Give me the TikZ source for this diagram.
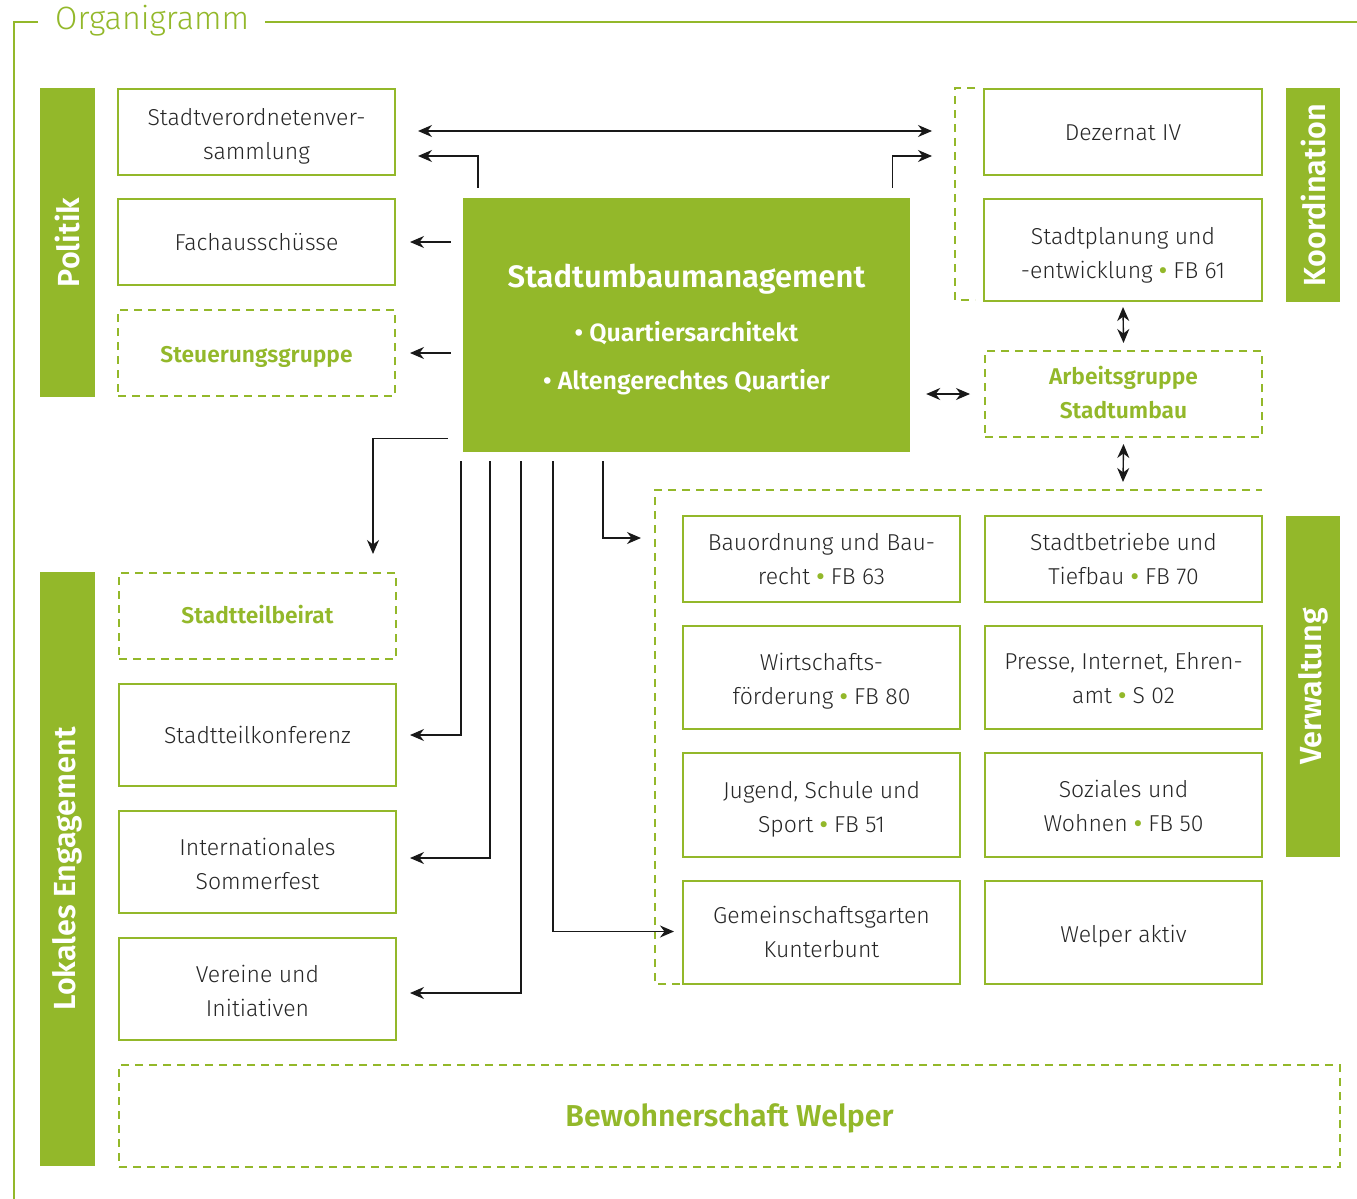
\documentclass[tikz,border=0pt]{standalone}
\usepackage{fontspec}
\setmainfont{Fira Sans}[UprightFont=* Light, BoldFont=* SemiBold]
\usetikzlibrary{arrows.meta,calc}
\definecolor{ogreen}{RGB}{147,184,42}
\definecolor{lnk}{RGB}{25,25,25}
\newcommand{\gb}{ {\color{ogreen}\bfseries\textbullet} }
\newcommand{\bt}[2][3.5pt]{\raisebox{-#1}[\height][\depth]{\begin{tabular}{@{}c@{}}#2\end{tabular}}}
\begin{document}
\begin{tikzpicture}[x=1pt,y=-1pt,
  box/.style={draw=ogreen, line width=2pt, fill=white, minimum width=277pt, minimum height=86pt,
    inner sep=0pt, font=\fontsize{23}{34}\selectfont, text=black!85},
  dbox/.style={box, dash pattern=on 8pt off 6pt, text=ogreen, font=\fontsize{22.8}{34}\selectfont\bfseries},
  bar/.style={fill=ogreen, text=white, inner sep=0pt, font=\fontsize{30.5}{30.5}\selectfont\bfseries, rotate=90},
  lk/.style={draw=lnk, line width=1.4pt},
  arr/.style={lk, -{Stealth[length=14pt,width=12pt,inset=4.5pt]}},
  darr/.style={lk, {Stealth[length=14pt,width=12pt,inset=4.5pt]}-{Stealth[length=14pt,width=12pt,inset=4.5pt]}},
  dline/.style={draw=ogreen, line width=2pt, dash pattern=on 8pt off 6pt}
]
\useasboundingbox (0,0) rectangle (1357,1199);
% frame and title
\node[anchor=west, text=ogreen, inner sep=0pt, font=\fontsize{32.3}{32.3}\selectfont] (title) at (55,21) {Organigramm};
\draw[draw=ogreen, line width=2.5pt] (38,22) -- (14,22) -- (14,1199);
\draw[draw=ogreen, line width=2.5pt] (265,22) -- (1357,22);

% side bars
\node[bar, minimum width=309pt, minimum height=55pt] (pol) at (67.5,242.5) {Politik};
\node[bar, minimum width=594pt, minimum height=55pt] (lok) at (67.5,869) {Lokales Engagement};
\node[bar, minimum width=214pt, minimum height=54pt] (koo) at (1313,195) {Koordination};
\node[bar, minimum width=341pt, minimum height=54pt] (ver) at (1313,686.5) {Verwaltung};

% politics column
\node[box] (svv) at (256.5,132) {\bt{Stadtverordnetenver-\\sammlung}};
\node[box] (fa) at (256.5,242) {\bt[1.5pt]{Fachausschüsse}};
\node[dbox] (stg) at (256.5,353) {\bt[3pt]{Steuerungsgruppe}};

% local engagement column
\node[dbox] (stb) at (257.5,616) {\bt[1pt]{Stadtteilbeirat}};
\node[box, minimum height=102pt] (stk) at (257.5,735) {\bt[1.5pt]{Stadtteilkonferenz}};
\node[box, minimum height=102pt] (isf) at (257.5,862) {\bt{Internationales\\Sommerfest}};
\node[box, minimum height=102pt] (vui) at (257.5,989) {\bt{Vereine und\\Initiativen}};

% center
\node[fill=ogreen, minimum width=447pt, minimum height=254pt, inner sep=0pt] (sum) at (686.5,325) {};
\node[text=white, font=\fontsize{31}{31}\selectfont\bfseries] (sumt) at (686.5,279) {Stadtumbaumanagement};
\node[text=white, font=\fontsize{25}{25}\selectfont\bfseries] (sum1) at (686.5,333.5) {\textbullet\ Quartiersarchitekt};
\node[text=white, font=\fontsize{25}{25}\selectfont\bfseries] (sum2) at (686.5,382) {\textbullet\ Altengerechtes Quartier};

% coordination column
\draw[dline] (975,88) -- (955,88) -- (955,300) -- (975,300);
\node[box, minimum width=278pt] (dez) at (1123,132) {\bt[1.5pt]{Dezernat IV}};
\node[box, minimum width=278pt, minimum height=102pt] (sp) at (1123,250) {\bt[4.5pt]{Stadtplanung und\\-entwicklung\gb FB 61}};
\node[dbox, minimum width=277pt] (ag) at (1123.5,394) {\bt[1pt]{Arbeitsgruppe\\Stadtumbau}};

% administration container
\coordinate (vtl) at (655,490);
\coordinate (vt) at (1123,490);
\draw[dline] (680,984) -- (655,984) -- (vtl) -- (1262,490);
\node[box, minimum width=277pt] (bau) at (821.5,559) {\bt[1.5pt]{Bauordnung und Bau-\\recht\gb FB 63}};
\node[box, minimum width=277pt] (stbt) at (1123.5,559) {\bt[2pt]{Stadtbetriebe und\\Tiefbau\gb FB 70}};
\node[box, minimum width=277pt, minimum height=103pt] (wf) at (821.5,677.5) {\bt{Wirtschafts-\\förderung\gb FB 80}};
\node[box, minimum width=277pt, minimum height=103pt] (pie) at (1123.5,677.5) {\bt[2pt]{Presse, Internet, Ehren-\\amt\gb S 02}};
\node[box, minimum width=277pt, minimum height=104pt] (jss) at (821.5,805) {\bt{Jugend, Schule und\\Sport\gb FB 51}};
\node[box, minimum width=277pt, minimum height=104pt] (sw) at (1123.5,805) {\bt[2.5pt]{Soziales und\\Wohnen\gb FB 50}};
\node[box, minimum width=277pt, minimum height=103pt] (gg) at (821.5,932.5) {\bt[1.5pt]{Gemeinschaftsgarten\\Kunterbunt}};
\node[box, minimum width=277pt, minimum height=103pt] (wa) at (1123.5,932.5) {\bt[3.5pt]{Welper aktiv}};

% residents
\node[dbox, minimum width=1221pt, minimum height=102pt, font=\fontsize{30.2}{30.2}\selectfont\bfseries] (bw) at (729.5,1116) {\bt[4pt]{Bewohnerschaft Welper}};

% connectors
\draw[darr] ([xshift=22pt,yshift=1pt]svv.east) -- ([xshift=-51pt,yshift=1pt]dez.west);
\draw[arr] ([xshift=15pt,yshift=10pt]sum.north west) |- ([xshift=22pt,yshift=-24pt]svv.east);
\draw[arr] ([xshift=-18pt,yshift=10pt]sum.north east) |- ([xshift=-51pt,yshift=-24pt]dez.west);
\draw[arr] ([xshift=-12pt]sum.west |- fa.east) -- ([xshift=14pt]fa.east);
\draw[arr] ([xshift=-12pt]sum.west |- stg.east) -- ([xshift=14pt]stg.east);
\draw[darr] ([xshift=16pt]sum.east |- ag.west) -- ([xshift=-14pt]ag.west);
\draw[darr] ([yshift=-5pt]sp.south) -- ([yshift=7pt]ag.north);
\draw[darr] ([yshift=-6pt]ag.south) -- ([yshift=8pt]vt);
\draw[arr] ([xshift=-15pt,yshift=14pt]sum.south west) -| ([xshift=-24pt,yshift=18pt]stb.north east);
\draw[arr] ([xshift=-2pt,yshift=-9pt]sum.south west) |- ([xshift=13pt]stk.east);
\draw[arr] ([xshift=27pt,yshift=-9pt]sum.south west) |- ([xshift=13pt,yshift=4pt]isf.east);
\draw[arr] ([xshift=58pt,yshift=-9pt]sum.south west) |- ([xshift=13pt,yshift=-4pt]vui.east);
\draw[arr] ([xshift=90pt,yshift=-9pt]sum.south west) |- ([xshift=-8pt,yshift=1pt]gg.west);
\draw[arr] ([xshift=140pt,yshift=-9pt]sum.south west) |- ([xshift=-14pt,yshift=-48pt]vtl);
\end{tikzpicture}
\end{document}
